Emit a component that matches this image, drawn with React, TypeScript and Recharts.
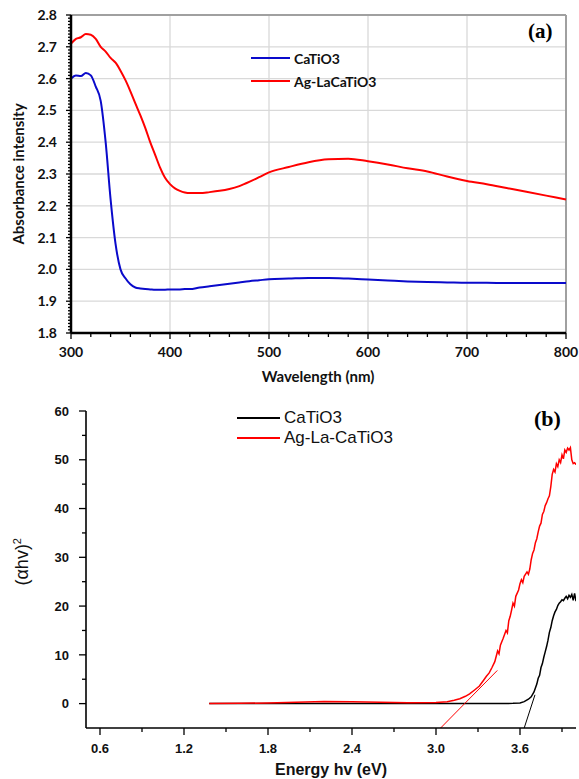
import { CartesianGrid, Legend, Line, LineChart, ReferenceLine, XAxis, YAxis } from "recharts";

// (a) UV-vis absorbance
const wavelengths = [300, 305, 310, 315, 320, 325, 330, 335, 340, 345, 350, 355, 360, 365, 370, 375, 380, 385, 390, 395, 400, 405, 410, 415, 420, 430, 440, 450, 460, 470, 480, 490, 500, 520, 540, 560, 580, 600, 620, 640, 660, 680, 700, 720, 740, 760, 780, 800];
const absCaTiO3 = [2.6, 2.61, 2.608, 2.618, 2.61, 2.575, 2.53, 2.4, 2.22, 2.08, 2.0, 1.972, 1.953, 1.943, 1.94, 1.938, 1.937, 1.936, 1.936, 1.936, 1.937, 1.937, 1.937, 1.938, 1.938, 1.943, 1.947, 1.951, 1.955, 1.959, 1.963, 1.966, 1.969, 1.971, 1.973, 1.973, 1.971, 1.968, 1.965, 1.962, 1.96, 1.959, 1.958, 1.958, 1.957, 1.957, 1.957, 1.957];
const absAgLa = [2.71, 2.725, 2.73, 2.74, 2.738, 2.725, 2.7, 2.685, 2.665, 2.65, 2.625, 2.595, 2.56, 2.522, 2.485, 2.445, 2.4, 2.36, 2.32, 2.288, 2.268, 2.255, 2.247, 2.242, 2.24, 2.24, 2.243, 2.247, 2.253, 2.262, 2.275, 2.29, 2.305, 2.322, 2.337, 2.346, 2.348, 2.34, 2.33, 2.318, 2.308, 2.292, 2.278, 2.268, 2.256, 2.244, 2.232, 2.22];
const absRows = wavelengths.map((nm, i) => ({ nm, cat: absCaTiO3[i], ag: absAgLa[i] }));

const aYTicks = Array.from({ length: 101 }, (_, i) => Math.round((1.8 + i * 0.01) * 100) / 100);
const aYMajor = [1.8, 1.9, 2.0, 2.1, 2.2, 2.3, 2.4, 2.5, 2.6, 2.7, 2.8];
const aXTicks = Array.from({ length: 26 }, (_, i) => 300 + i * 20);
const aXMajor = [300, 400, 500, 600, 700, 800];

// (b) Tauc plot
const energyCa = [1.38, 1.8, 2.4, 3.0, 3.4, 3.55, 3.6, 3.63, 3.66, 3.68, 3.7, 3.72, 3.73, 3.74, 3.75, 3.76, 3.77, 3.78, 3.79, 3.8, 3.81, 3.82, 3.83, 3.84, 3.85, 3.86, 3.87, 3.88, 3.89, 3.9, 3.91, 3.92, 3.93, 3.94, 3.95, 3.96, 3.97, 3.98, 3.99, 4.0];
const taucCa = [0, 0.02, 0.02, 0.02, 0.02, 0.05, 0.15, 0.4, 0.9, 1.4, 2.4, 4.0, 5.2, 5.8, 7.4, 8.2, 9.5, 10.6, 11.7, 13.0, 14.6, 15.6, 17.0, 18.0, 18.8, 19.3, 20.1, 20.6, 20.9, 21.3, 21.1, 21.6, 22.0, 21.5, 22.2, 21.8, 22.4, 21.2, 22.6, 21.0];
const energyAg = [1.38, 1.6, 1.8, 2.0, 2.2, 2.4, 2.6, 2.8, 3.0, 3.08, 3.13, 3.17, 3.21, 3.24, 3.28, 3.31, 3.34, 3.36, 3.38, 3.4, 3.42, 3.44, 3.45, 3.46, 3.48, 3.5, 3.51, 3.52, 3.53, 3.54, 3.55, 3.56, 3.57, 3.59, 3.6, 3.61, 3.62, 3.63, 3.65, 3.66, 3.67, 3.68, 3.69, 3.7, 3.71, 3.72, 3.73, 3.74, 3.75, 3.76, 3.77, 3.78, 3.79, 3.8, 3.81, 3.82, 3.83, 3.84, 3.85, 3.86, 3.87, 3.88, 3.89, 3.9, 3.91, 3.92, 3.93, 3.94, 3.95, 3.96, 3.97, 3.98, 3.99, 4.0];
const taucAg = [0, 0.05, 0.15, 0.3, 0.45, 0.4, 0.3, 0.2, 0.25, 0.4, 0.7, 1.0, 1.5, 2.0, 2.9, 3.6, 4.8, 5.6, 6.3, 7.4, 8.6, 10.8, 10.2, 12.0, 13.4, 15.0, 14.5, 17.0, 17.9, 19.2, 20.6, 20.0, 22.0, 23.3, 24.6, 25.4, 24.8, 26.1, 27.0, 26.5, 27.6, 29.5, 30.8, 31.5, 33.0, 33.8, 35.2, 36.4, 37.0, 38.8, 39.4, 40.6, 41.2, 42.0, 42.6, 44.5, 47.0, 48.0, 47.5, 49.2, 48.6, 50.0, 49.4, 51.0, 50.2, 52.0, 51.5, 52.4, 52.0, 52.5, 50.0, 49.2, 49.4, 49.0];
const tangentCaE = [3.63, 3.707];
const tangentCaV = [-5, 1.8];
const tangentAgE = [3.033, 3.438];
const tangentAgV = [-5, 6.8];

const bYTicks = [0, 5, 10, 15, 20, 25, 30, 35, 40, 45, 50, 55, 60];
const bYMajor = [0, 10, 20, 30, 40, 50, 60];
const bXTicks = [0.6, 0.9, 1.2, 1.5, 1.8, 2.1, 2.4, 2.7, 3.0, 3.3, 3.6, 3.9];
const bXMajor = [0.6, 1.2, 1.8, 2.4, 3.0, 3.6];

const legendOrderA = ["CaTiO3", "Ag-LaCaTiO3"];
const legendOrderB = ["CaTiO3", "Ag-La-CaTiO3"];

const toRows = (es: number[], vs: number[]) => es.map((e, i) => ({ e, v: vs[i] }));

const isIn = (list: number[], v: number) => list.some((m) => Math.abs(m - v) < 1e-6);

function yTick(major: number[], majLen: number, minLen: number, gap: number, style: any, fmt: (v: number) => string) {
  return (props: any) => {
    const { x, y, payload } = props;
    const maj = isIn(major, payload.value);
    return (
      <g>
        <line x1={x - (maj ? majLen : minLen)} x2={x} y1={y} y2={y} stroke="#000" strokeWidth={1.3} />
        {maj && (
          <text x={x - gap} y={y} dy="0.36em" textAnchor="end" {...style}>
            {fmt(payload.value)}
          </text>
        )}
      </g>
    );
  };
}

function xTick(major: number[], majLen: number, minLen: number, gap: number, style: any, fmt: (v: number) => string) {
  return (props: any) => {
    const { x, y, payload } = props;
    const maj = isIn(major, payload.value);
    return (
      <g>
        <line x1={x} x2={x} y1={y} y2={y + (maj ? majLen : minLen)} stroke="#000" strokeWidth={1.3} />
        {maj && (
          <text x={x} y={y + gap} dy="0.36em" textAnchor="middle" {...style}>
            {fmt(payload.value)}
          </text>
        )}
      </g>
    );
  };
}

const fontA = { fontFamily: "Lato, 'Open Sans', sans-serif", fontWeight: 700, fontSize: 14, fill: "#111" };
const fontB = { fontFamily: "'Liberation Sans', Arial, sans-serif", fontWeight: 700, fontSize: 13, fill: "#111" };

function legendContent(order: string[], lineW: number, rowH: number, textStyle: any) {
  return (props: any) => {
    const items = (props.payload || []).filter((p: any) => p.type !== "none");
    items.sort((a: any, b: any) => order.indexOf(a.value) - order.indexOf(b.value));
    return (
      <div>
        {items.map((p: any) => (
          <div key={p.value} style={{ display: "flex", alignItems: "center", height: rowH }}>
            <span style={{ display: "inline-block", width: lineW, height: 2, background: p.color }} />
            <span style={{ marginLeft: 4, whiteSpace: "nowrap", ...textStyle }}>{p.value}</span>
          </div>
        ))}
      </div>
    );
  };
}

function AbsorbanceChart() {
  return (
    <div style={{ position: "relative", width: 579, height: 390 }}>
      <LineChart width={579} height={390} data={absRows} margin={{ top: 15, right: 13, left: 0, bottom: 0 }}>
        <CartesianGrid stroke="#d9d9d9" strokeWidth={1.3} horizontalValues={aYMajor} verticalValues={aXMajor} />
        <XAxis
          dataKey="nm"
          type="number"
          domain={[300, 800]}
          ticks={aXTicks}
          interval={0}
          height={57}
          tickSize={0}
          tickMargin={0}
          axisLine={{ stroke: "#000", strokeWidth: 2.5 }}
          tick={xTick(aXMajor, 6, 4, 19, fontA, (v) => String(v))}
          label={() => (
            <text x={318} y={377} dy="0.36em" textAnchor="middle" {...fontA} fontSize={15}>
              Wavelength (nm)
            </text>
          )}
        />
        <YAxis
          type="number"
          domain={[1.8, 2.8]}
          ticks={aYTicks}
          interval={0}
          width={71}
          tickSize={0}
          tickMargin={0}
          axisLine={{ stroke: "#000", strokeWidth: 2.5 }}
          tick={yTick(aYMajor, 5, 3, 14, fontA, (v) => v.toFixed(1))}
          label={() => (
            <text x={19} y={174} dy="0.36em" textAnchor="middle" transform="rotate(-90 19 174)" {...fontA} fontSize={15}>
              Absorbance intensity
            </text>
          )}
        />
        <ReferenceLine y={2.8} stroke="#a0a0a0" strokeWidth={2} />
        <ReferenceLine x={800} stroke="#a0a0a0" strokeWidth={2} />
        <Legend
          layout="vertical"
          verticalAlign="middle"
          align="center"
          wrapperStyle={{ position: "absolute", top: 46.5, left: 251, width: "auto" }}
          content={legendContent(legendOrderA, 39, 23, { fontFamily: fontA.fontFamily, fontWeight: 700, fontSize: 14, color: "#111" })}
        />
        <Line type="monotone" dataKey="cat" name="CaTiO3" stroke="#0a0acb" strokeWidth={2} dot={false} isAnimationActive={false} />
        <Line type="monotone" dataKey="ag" name="Ag-LaCaTiO3" stroke="#ff0000" strokeWidth={2} dot={false} isAnimationActive={false} />
      </LineChart>
      <div style={{ position: "absolute", left: 528, top: 19, fontFamily: "'Liberation Serif', serif", fontWeight: 700, fontSize: 21 }}>(a)</div>
    </div>
  );
}

function TaucChart() {
  return (
    <div style={{ position: "relative", width: 579, height: 389 }}>
      <LineChart width={579} height={389} margin={{ top: 21, right: 3, left: 0, bottom: 0 }}>
        <XAxis
          dataKey="e"
          type="number"
          domain={[0.5, 4.0]}
          ticks={bXTicks}
          interval={0}
          allowDataOverflow
          height={51}
          tickSize={0}
          tickMargin={0}
          axisLine={{ stroke: "#000", strokeWidth: 1.6 }}
          tick={xTick(bXMajor, 7, 4, 20, fontB, (v) => v.toFixed(1))}
          label={() => (
            <text x={331} y={379} dy="0.36em" textAnchor="middle" {...fontB} fontSize={16}>
              Energy hv (eV)
            </text>
          )}
        />
        <YAxis
          dataKey="v"
          type="number"
          domain={[-5, 60]}
          ticks={bYTicks}
          interval={0}
          allowDataOverflow
          width={86}
          tickSize={0}
          tickMargin={0}
          axisLine={{ stroke: "#000", strokeWidth: 1.6 }}
          tick={yTick(bYMajor, 7, 4, 17, fontB, (v) => String(v))}
          label={() => (
            <text x={22} y={148} dy="0.36em" textAnchor="end" transform="rotate(-90 22 148)" fontFamily="'Liberation Sans', Arial, sans-serif" fontSize={18} fill="#111">
              (αhv)
              <tspan dy={-7} fontSize={11}>2</tspan>
            </text>
          )}
        />
        <Legend
          layout="vertical"
          verticalAlign="middle"
          align="center"
          wrapperStyle={{ position: "absolute", top: 18, left: 237, width: "auto" }}
          content={legendContent(legendOrderB, 43, 20, { fontFamily: "'Liberation Sans', Arial, sans-serif", fontSize: 17, color: "#111" })}
        />
        <Line data={toRows(energyCa, taucCa)} type="linear" dataKey="v" name="CaTiO3" stroke="#000" strokeWidth={1.5} dot={false} isAnimationActive={false} />
        <Line data={toRows(energyAg, taucAg)} type="linear" dataKey="v" name="Ag-La-CaTiO3" stroke="#ff0000" strokeWidth={1.5} dot={false} isAnimationActive={false} />
        <Line data={toRows(tangentCaE, tangentCaV)} type="linear" dataKey="v" name="tangent-ca" legendType="none" stroke="#000" strokeWidth={1} dot={false} isAnimationActive={false} />
        <Line data={toRows(tangentAgE, tangentAgV)} type="linear" dataKey="v" name="tangent-ag" legendType="none" stroke="#ff0000" strokeWidth={1} dot={false} isAnimationActive={false} />
      </LineChart>
      <div style={{ position: "absolute", left: 534, top: 16, fontFamily: "'Liberation Serif', serif", fontWeight: 700, fontSize: 22 }}>(b)</div>
    </div>
  );
}

export default function App() {
  return (
    <div style={{ width: 579, height: 779, background: "#fff" }}>
      <style>{"body{margin:0;background:#fff}"}</style>
      <AbsorbanceChart />
      <TaucChart />
    </div>
  );
}
